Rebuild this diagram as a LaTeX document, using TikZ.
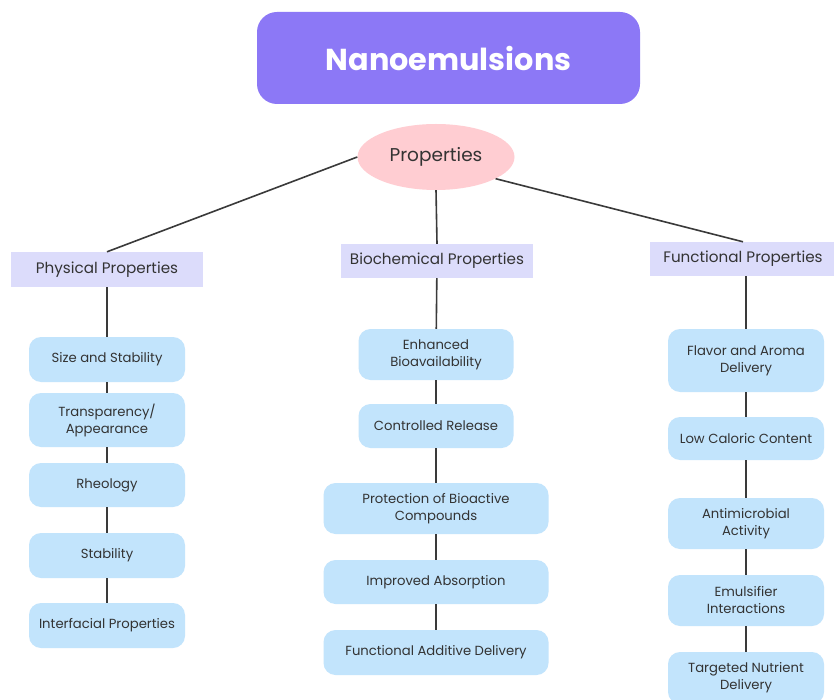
\documentclass[tikz,border=0pt]{standalone}
\usepackage{fontspec}
\setmainfont{Poppins}
\usetikzlibrary{shapes.geometric}
\definecolor{titlebg}{HTML}{8C78F6}
\definecolor{ellbg}{HTML}{FFCDD2}
\definecolor{catbg}{HTML}{DCDCFB}
\definecolor{itembg}{HTML}{C2E4FC}
\definecolor{txt}{HTML}{333333}
\definecolor{edge}{HTML}{3A3A3A}
\tikzset{
  titlebox/.style={draw=none, fill=titlebg, rounded corners=20pt, minimum width=383pt, minimum height=92pt, inner sep=0pt, text=white, font=\fontsize{30.3}{34}\selectfont\bfseries},
  propell/.style={ellipse, fill=ellbg, minimum width=157pt, minimum height=66pt, inner sep=0pt, text=txt, font=\fontsize{18.5}{22}\selectfont},
  catbox/.style={fill=catbg, minimum height=35pt, inner sep=0pt, text=txt, font=\fontsize{15.2}{18}\selectfont},
  itembox/.style={fill=itembg, rounded corners=12pt, minimum width=156pt, inner sep=0pt, text=txt, align=center, font=\fontsize{13.2}{17}\selectfont},
  conn/.style={draw=edge, line width=1.6pt}
}
\begin{document}
\begin{tikzpicture}[x=1pt,y=-1pt]
\useasboundingbox (0,0) rectangle (834,700);
\fill[white] (0,0) rectangle (834,700);
% title and root
\node[titlebox] (title) at (448.5,58) {Nanoemulsions};
\node[propell] (prop) at (436,157) {Properties};
% categories
\node[catbox, minimum width=192pt] (phys) at (107,269.5) {Physical Properties};
\node[catbox, minimum width=192pt, minimum height=34pt] (bio) at (437,261) {Biochemical Properties};
\node[catbox, minimum width=186pt, minimum height=34pt] (func) at (743,259) {Functional Properties};
% physical items
\node[itembox, minimum height=45pt] (p1) at (107,359.5) {Size and Stability};
\node[itembox, minimum height=54pt] (p2) at (107,420) {Transparency/\\Appearance};
\node[itembox, minimum height=44pt] (p3) at (107,485) {Rheology};
\node[itembox, minimum height=45pt] (p4) at (107,555.5) {Stability};
\node[itembox, minimum height=45pt] (p5) at (107,625.5) {Interfacial Properties};
% biochemical items
\node[itembox, minimum width=155pt, minimum height=51pt] (b1) at (436,354.5) {Enhanced\\Bioavailability};
\node[itembox, minimum width=155pt, minimum height=44pt] (b2) at (436,426) {Controlled Release};
\node[itembox, minimum width=225pt, minimum height=51pt] (b3) at (436,508.5) {Protection of Bioactive\\Compounds};
\node[itembox, minimum width=225pt, minimum height=44pt] (b4) at (436,582) {Improved Absorption};
\node[itembox, minimum width=225pt, minimum height=45pt] (b5) at (436,652.5) {Functional Additive Delivery};
% functional items
\node[itembox, minimum height=63pt] (f1) at (746,360.5) {Flavor and Aroma\\Delivery};
\node[itembox, minimum height=43pt] (f2) at (746,438.5) {Low Caloric Content};
\node[itembox, minimum height=51pt] (f3) at (746,523.5) {Antimicrobial\\Activity};
\node[itembox, minimum height=51pt] (f4) at (746,600.5) {Emulsifier\\Interactions};
\node[itembox, minimum height=52pt] (f5) at (746,678) {Targeted Nutrient\\Delivery};
% connectors
\draw[conn] (prop.west) -- (phys.north);
\draw[conn] (prop.south) -- (bio.north);
\draw[conn] (prop.-20) -- (func.north);
\draw[conn] (phys) -- (p1);
\draw[conn] (p1) -- (p2);
\draw[conn] (p2) -- (p3);
\draw[conn] (p3) -- (p4);
\draw[conn] (p4) -- (p5);
\draw[conn] (bio) -- (b1);
\draw[conn] (b1) -- (b2);
\draw[conn] (b2) -- (b3);
\draw[conn] (b3) -- (b4);
\draw[conn] (b4) -- (b5);
\draw[conn] (func.south -| f1.north) -- (f1);
\draw[conn] (f1) -- (f2);
\draw[conn] (f2) -- (f3);
\draw[conn] (f3) -- (f4);
\draw[conn] (f4) -- (f5);
\end{tikzpicture}
\end{document}
